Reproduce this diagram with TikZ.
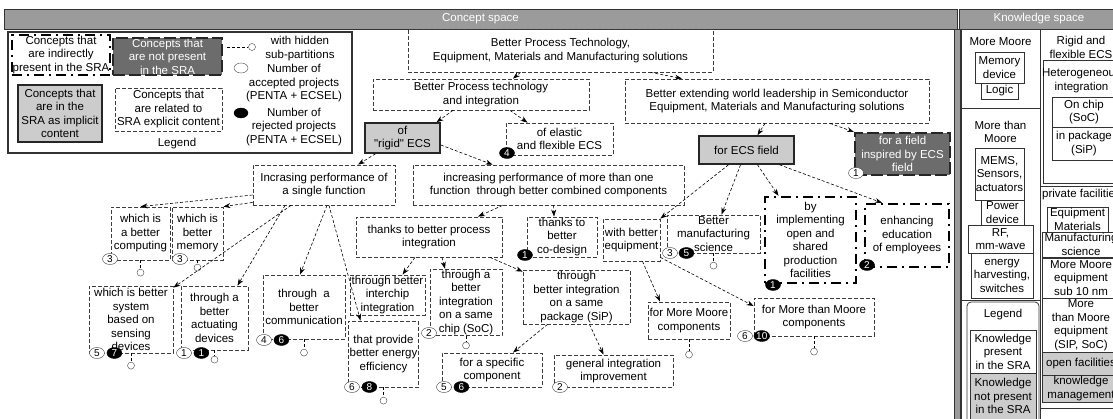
\documentclass[tikz,border=0pt]{standalone}
\usepackage{fontspec}
\setmainfont{Liberation Sans}
\usetikzlibrary{positioning, shapes.geometric, arrows.meta}
\definecolor{barGray}{RGB}{155,155,155}
\definecolor{implGray}{RGB}{204,204,204}
\definecolor{absGray}{RGB}{108,108,108}
\definecolor{lineGray}{RGB}{60,60,60}

\begin{document}
\begin{tikzpicture}[x=1pt, y=-1pt, >={Stealth[length=7pt, width=5pt]},
    font=\fontsize{11.5}{13.5}\selectfont,
    box size/.style 2 args={minimum width=#1, minimum height=#2},
    concept node/.style={draw=lineGray, dash pattern=on 4pt off 2pt, line width=0.8pt, align=center, inner sep=1pt},
    implicit node/.style={draw=black!85, line width=1.6pt, fill=implGray, align=center, inner sep=1pt},
    absent node/.style={draw=black!85, line width=2pt, dash pattern=on 12pt off 4pt, fill=absGray, text=white, align=center, inner sep=1pt},
    indirect node/.style={draw=black, line width=2.4pt, dash pattern=on 10pt off 5pt on 2pt off 5pt, align=center, inner sep=1pt},
    acc badge/.style={ellipse, draw=black!75, fill=white, minimum width=15pt, minimum height=11pt, inner sep=0pt, font=\fontsize{10}{10}\selectfont},
    rej badge/.style={acc badge, draw=black, fill=black, text=white},
    hidden/.style={circle, draw=black!75, fill=white, minimum size=7pt, inner sep=0pt},
    link/.style={->, dash pattern=on 3pt off 2pt, line width=0.6pt},
    stem/.style={dash pattern=on 3pt off 2pt, line width=0.6pt},
    know box/.style={draw=black!80, line width=0.8pt, align=center, inner sep=0pt},
    bar/.style={draw=black!80, line width=0.8pt, fill=barGray, text=white, inner sep=0pt}]

  \useasboundingbox (0,0) rectangle (1113,419);

  % Headers
  \node[bar, box size={953}{20}] (cspace) at (480.5,19) {Concept space};
  \node[bar, box size={160}{20}] (kspace) at (1039,19) {Knowledge space};
  \draw[black!80, fill=barGray, line width=0.8pt] (954,29) rectangle (960,425);

  % Legend of the concept space
  \draw[black!80, line width=1.4pt] (8,32) rectangle (352,153);
  \node[indirect node, box size={98}{34}] (l1) at (61,55) {Concepts that\\are indirectly\\present in the SRA};
  \node[absent node, box size={109}{37}] (l2) at (167.5,56.5) {Concepts that\\are not present\\in the SRA};
  \node[implicit node, box size={84}{57}] (l3) at (60,113.5) {Concepts that\\are in the\\SRA as implicit\\content};
  \node[concept node, box size={107}{43}] (l4) at (168.5,109.5) {Concepts that\\are related to\\SRA explicit content};
  \node (l5) at (177,144) {Legend};
  \coordinate (l6a) at (227,47);
  \node[hidden] (l6) at (252,47) {};
  \draw[stem] (l6a) -- (l6);
  \node[align=center] (l7) at (300,48.5) {with hidden\\sub-partitions};
  \node[acc badge, box size={14}{10}] (l8) at (241,68) {};
  \node[align=center] (l9) at (294,83.5) {Number of\\accepted projects\\(PENTA + ECSEL)};
  \node[rej badge, box size={14}{10}] (l10) at (241,113) {};
  \node[align=center] (l11) at (294,127) {Number of\\rejected projects\\(PENTA + ECSEL)};

  % Level 0 and 1
  \node[concept node, box size={305}{43}] (c0) at (560.5,50.5) {Better Process Technology,\\Equipment, Materials and Manufacturing solutions};
  \node[concept node, box size={216}{31}] (c1) at (481,94.5) {Better Process technology\\and integration};
  \node[concept node, box size={304}{44}] (c2) at (777,101) {Better extending world leadership in Semiconductor\\Equipment, Materials and Manufacturing solutions};

  % Level 2
  \node[implicit node, box size={75}{30}] (c3) at (402.5,138) {of\\\textquotedbl rigid\textquotedbl{} ECS};
  \node[concept node, box size={107}{32}] (c4) at (559.5,139) {of elastic\\and flexible ECS};
  \node[implicit node, box size={95}{28}] (c5) at (746.5,150) {for ECS field};
  \node[absent node, box size={95}{42}] (c6) at (902.5,154) {for a field\\inspired by ECS\\field};

  % Level 3
  \node[concept node, box size={142}{40}] (c7) at (324,185) {Incrasing performance of\\a single function};
  \node[concept node, box size={271}{40}] (c8) at (548.5,185) {increasing performance of more than one\\function~~through better combined components};

  % Level 4 (from c7)
  \node[concept node, box size={59}{53}] (c9) at (140.5,233.5) {which is\\a better\\computing};
  \node[concept node, box size={51}{53}] (c10) at (197.5,233.5) {which is\\better\\memory};
  \node[concept node, box size={84}{67}] (c11) at (131,319.5) {which is better\\system\\based on\\sensing\\devices};
  \node[concept node, box size={67}{64}] (c12) at (214.5,318) {through a\\better\\actuating\\devices};
  \node[concept node, box size={82}{64}] (c13) at (304,307) {through~~a\\better\\communication};
  \node[concept node, box size={67}{66}] (c14) at (383.5,354) {that provide\\better energy\\efficiency};

  % Level 4 (from c8)
  \node[concept node, box size={146}{40}] (c15) at (429,237) {thanks to better process\\integration};
  \node[concept node, box size={70}{40}] (c16) at (562,237) {thanks to\\better\\co-design};
  \node[concept node, box size={75}{40}] (c17) at (387.5,295) {through better\\interchip\\integration};
  \node[concept node, box size={72}{61}] (c18) at (466,302.5) {through a\\better\\integration\\on a same\\chip (SoC)};
  \node[concept node, box size={107}{54}] (c19) at (576.5,297) {through\\better integration\\on a same\\package (SiP)};
  \node[concept node, box size={100}{34}] (c20) at (492,370) {for a specific\\component};
  \node[concept node, box size={119}{32}] (c21) at (613.5,371) {general integration\\improvement};

  % Level 4 (from c5)
  \node[concept node, box size={57}{42}] (c22) at (631.5,240) {with better\\equipment};
  \node[concept node, box size={93}{38}] (c23) at (713.5,234) {Better\\manufacturing\\science};
  \node[indirect node, box size={91}{86}] (c24) at (810.5,240) {by\\implementing\\open and\\shared\\production\\facilities};
  \node[indirect node, box size={84}{63}] (c25) at (907,235.5) {enhancing\\education\\of employees};
  \node[concept node, box size={82}{37}] (c26) at (689,320.5) {for More Moore\\components};
  \node[concept node, box size={120}{38}] (c27) at (814,317) {for More than Moore\\components};

  % Project counts
  \node[rej badge] (c4r) at (507,153) {4};
  \node[acc badge] (c6a) at (856,173) {1};
  \node[acc badge] (c9a) at (110,259) {3};
  \node[acc badge] (c10a) at (180,259) {3};
  \node[acc badge] (c11a) at (97,353) {5};
  \node[rej badge, right=2pt of c11a] (c11r) {7};
  \node[acc badge] (c12a) at (184,353) {1};
  \node[rej badge, right=2pt of c12a] (c12r) {1};
  \node[acc badge] (c13a) at (264,340) {4};
  \node[rej badge, right=2pt of c13a] (c13r) {6};
  \node[acc badge] (c14a) at (352,387) {6};
  \node[rej badge, right=2pt of c14a] (c14r) {8};
  \node[rej badge] (c16r) at (525,255) {1};
  \node[acc badge] (c18a) at (429,333) {2};
  \node[acc badge] (c20a) at (444,387) {5};
  \node[rej badge, right=2pt of c20a] (c20r) {6};
  \node[acc badge] (c21a) at (560,387) {2};
  \node[acc badge] (c23a) at (670,253) {3};
  \node[rej badge, right=1pt of c23a] (c23r) {5};
  \node[rej badge] (c24r) at (773,285) {1};
  \node[rej badge] (c25r) at (867,265) {2};
  \node[acc badge] (c27a) at (745,336) {6};
  \node[rej badge, right=1pt of c27a] (c27r) {10};

  % Hidden sub-partitions
  \node[hidden, below=8.5pt of c9] (c9h) {};
  \node[hidden, below=3.5pt of c10] (c10h) {};
  \node[hidden, below=8.5pt of c11] (c11h) {};
  \node[hidden, below=5.5pt of c12] (c12h) {};
  \node[hidden, below=9.5pt of c13] (c13h) {};
  \node[hidden, below=9.5pt of c14] (c14h) {};
  \node[hidden, below=5.5pt of c18] (c18h) {};
  \node[hidden, below=8.5pt of c23] (c23h) {};
  \node[hidden, below=11.5pt of c26] (c26h) {};
  \node[hidden, below=11.5pt of c27] (c27h) {};
  \foreach \n in {c9,c10,c11,c12,c13,c14,c18,c23,c26,c27}
    \draw[stem] (\n) -- (\n h);

  % Edges
  \path[link]
    ([xshift=-40]c0.south) edge ([xshift=32]c1.north)
    ([xshift=90]c0.south) edge ([xshift=-95]c2.north)
    ([xshift=-28]c1.south) edge ([xshift=34]c3.north)
    ([xshift=29]c1.south) edge ([xshift=-32]c4.north)
    ([xshift=-12]c2.south) edge ([xshift=11]c5.north)
    ([xshift=53]c2.south) edge (c6.north west)
    ([xshift=-27]c3.south) edge ([xshift=34]c7.north)
    ([yshift=-7]c3.east) edge ([xshift=-56]c8.north)
    ([yshift=-10]c7.west) edge (c9.north)
    ([yshift=3]c7.south west) edge (c10.north east)
    ([xshift=-33]c7.south) edge ([yshift=-2]c11.north east)
    ([xshift=-39]c7.south) edge ([xshift=23]c12.north)
    ([xshift=3]c7.south) edge ([xshift=-4]c13.north)
    ([xshift=5]c7.south) edge ([xshift=-23]c14.north)
    ([xshift=-46]c8.south) edge ([xshift=49]c15.north)
    ([xshift=5]c8.south) edge ([xshift=-8]c16.north)
    ([xshift=-14]c15.south) edge ([xshift=15]c17.north)
    ([xshift=13]c15.south) edge ([xshift=-21]c18.north)
    ([xshift=61]c15.south) edge ([yshift=-2]c19.north west)
    ([xshift=-29]c19.south) edge ([xshift=21]c20.north)
    ([xshift=13]c19.south) edge ([xshift=-10]c21.north)
    ([xshift=-18]c5.south) edge (c22.north east)
    ([xshift=-6]c5.south) edge ([xshift=8]c23.north)
    ([xshift=11]c5.south) edge ([xshift=-32]c24.north)
    ([xshift=33]c5.south) edge ([xshift=-25]c25.north)
    ([xshift=11]c22.south) edge ([xshift=-29]c26.north)
    ([yshift=4]c22.south east) edge ([yshift=11]c27.west);

  % Knowledge space, left column
  \draw[black!80, line width=0.8pt] (961,29) rectangle (1040,425);
  \draw[black!80, line width=0.8pt] (961,108) -- (1040,108) (961,300) -- (1040,300);
  \node (k1) at (1000.5,42) {More Moore};
  \node[know box, box size={49}{31}] (k2) at (999.5,67.5) {Memory\\device};
  \node[know box, box size={37}{16}] (k3) at (999.5,91) {Logic};
  \node[align=center] (k4) at (1000.5,132) {More than\\Moore};
  \node[know box, box size={49}{52}] (k5) at (999.5,174) {MEMS,\\Sensors,\\actuators};
  \node[know box, box size={43}{25}] (k6) at (1002.5,212.5) {Power\\device};
  \node[know box, box size={65}{28}] (k7) at (1000.5,239) {RF,\\mm-wave};
  \node[know box, box size={62}{45}] (k8) at (1002,275.5) {energy\\harvesting,\\switches};
  \draw[black!80, line width=0.8pt, rounded corners=4pt] (967,302) rectangle (1039,430);
  \node (k9) at (1003,315) {Legend};
  \node[know box, fill=white, box size={66}{43}] (k10) at (1003,351.5) {Knowledge\\present\\in the SRA};
  \node[know box, fill=implGray, box size={66}{46}] (k11) at (1003,396) {Knowledge\\not present\\in the SRA};

  % Knowledge space, right column
  \draw[black!80, line width=0.8pt] (1040,29) rectangle (1122,186);
  \node[align=center] (k12) at (1081,47.5) {Rigid and\\flexible ECS};
  \draw[black!80, line width=0.8pt] (1043,60) rectangle (1122,183);
  \node[align=center] (k13) at (1081.5,80.5) {Heterogeneous\\integration};
  \node[know box, box size={64}{30}] (k14) at (1084,112) {On chip\\(SoC)};
  \node[know box, box size={64}{33}] (k15) at (1084,143.5) {in package\\(SiP)};
  \draw[black!80, line width=0.8pt] (1040,186) rectangle (1122,408);
  \node (k16) at (1081.5,195) {private facilities};
  \node[know box, box size={61}{25}] (k17) at (1077.5,219.5) {Equipment\\Materials};
  \node[know box, box size={78}{25}] (k18) at (1081,244.5) {Manufacturing\\science};
  \node[know box, box size={78}{40}] (k19) at (1081,278) {More Moore\\equipment\\sub 10 nm};
  \node[know box, box size={78}{54}] (k20) at (1081,325) {More\\than Moore\\equipment\\(SIP, SoC)};
  \node[know box, fill=implGray, box size={78}{23}] (k21) at (1081,363.5) {open facilities};
  \node[know box, fill=implGray, box size={78}{27}] (k22) at (1081,388.5) {knowledge\\management};
\end{tikzpicture}
\end{document}
